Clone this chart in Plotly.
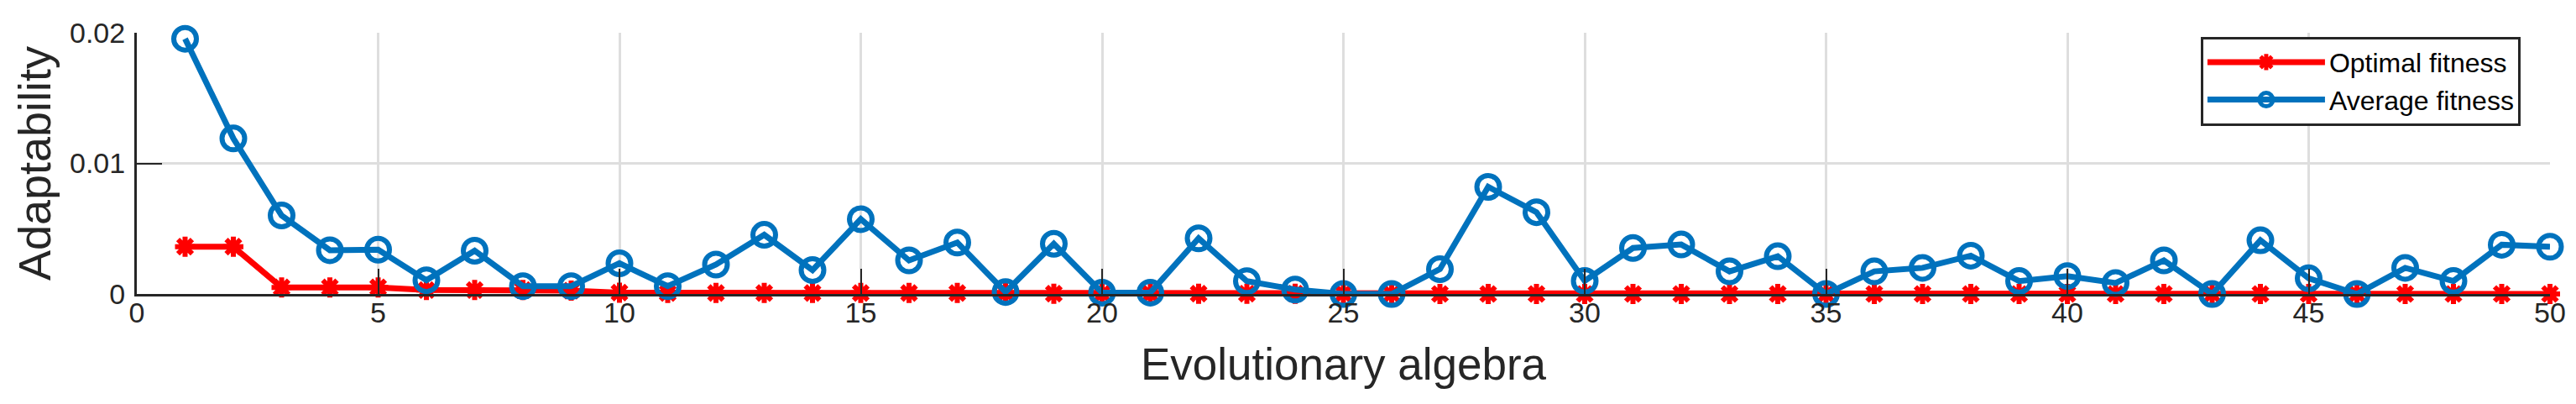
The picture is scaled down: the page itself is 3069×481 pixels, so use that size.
import plotly.graph_objects as go

generations = list(range(1, 51))

optimal_fitness = [
    0.00362, 0.00362, 0.0005, 0.0005, 0.0005, 0.0003, 0.0003, 0.0003, 0.00025, 0.0001,
    0.00008, 0.00008, 0.00008, 0.00008, 0.00008, 0.00008, 0.00008, 0.00008, 0.00002, 0.00002,
    0.00002, 0.00002, 0.00002, 0.00002, 0.00002, 0, 0, 0, 0, 0,
    0, 0, 0, 0, 0, 0, 0, 0, 0, 0,
    0, 0, 0, 0, 0, 0, 0, 0, 0, 0,
]

average_fitness = [
    0.01954, 0.01191, 0.00601, 0.00335, 0.00339, 0.00105, 0.00331, 0.0006, 0.0006, 0.00235,
    0.0006, 0.00225, 0.00453, 0.00183, 0.00573, 0.00257, 0.00394, 0.00015, 0.00384, 0.0001,
    0.0001, 0.00426, 0.00098, 0.00034, 0, 0, 0.0019, 0.0082, 0.00626, 0.001,
    0.00352, 0.00379, 0.00173, 0.00289, 0, 0.00173, 0.002, 0.00293, 0.00099, 0.00137,
    0.00084, 0.00257, 0, 0.00411, 0.0012, 0, 0.002, 0.00099, 0.00377, 0.00362,
]

x_ticks = [0, 5, 10, 15, 20, 25, 30, 35, 40, 45, 50]
y_ticks = [0, 0.01, 0.02]
y_tick_labels = ["0", "0.01", "0.02"]

RED = "#FF0000"
BLUE = "#0072BD"
DARK = "#262626"
FONT = "Liberation Sans, Arial, sans-serif"

fig = go.Figure()

fig.add_trace(go.Scatter(
    x=generations, y=optimal_fitness, name="Optimal fitness",
    mode="lines+markers", cliponaxis=False,
    line=dict(color=RED, width=7),
    marker=dict(symbol="asterisk-open", size=20, color=RED,
                line=dict(color=RED, width=6)),
))

fig.add_trace(go.Scatter(
    x=generations, y=average_fitness, name="Average fitness",
    mode="lines+markers", cliponaxis=False,
    line=dict(color=BLUE, width=7),
    marker=dict(symbol="circle-open", size=27, color=BLUE,
                line=dict(color=BLUE, width=6)),
))

axis_common = dict(
    ticks="inside", ticklen=30, tickwidth=2, tickcolor=DARK,
    showline=True, linewidth=3, linecolor=DARK, mirror=False,
    showgrid=True, gridcolor="#dedede", gridwidth=3, zeroline=False,
    tickfont=dict(family=FONT, size=34, color=DARK),
)

fig.update_xaxes(
    range=[0, 50], tickvals=x_ticks,
    title=dict(text="Evolutionary algebra", standoff=26,
               font=dict(family=FONT, size=53, color=DARK)),
    ticklabelstandoff=-10,
    **axis_common,
)
fig.update_yaxes(
    range=[0, 0.02], tickvals=y_ticks, ticktext=y_tick_labels,
    title=dict(text="Adaptability", standoff=6,
               font=dict(family=FONT, size=54, color=DARK)),
    ticklabelstandoff=4,
    **axis_common,
)

fig.update_layout(
    width=3069, height=481,
    margin=dict(l=155, r=39, t=26, b=139),
    paper_bgcolor="white", plot_bgcolor="white",
    font=dict(family=FONT, color=DARK),
    showlegend=True,
    legend=dict(
        x=0.9878, y=0.985, xanchor="right", yanchor="top",
        bgcolor="white", bordercolor=DARK, borderwidth=3,
        font=dict(family=FONT, size=32, color="black"),
        itemwidth=140, tracegroupgap=0,
    ),
)

fig.write_html("out.html")
